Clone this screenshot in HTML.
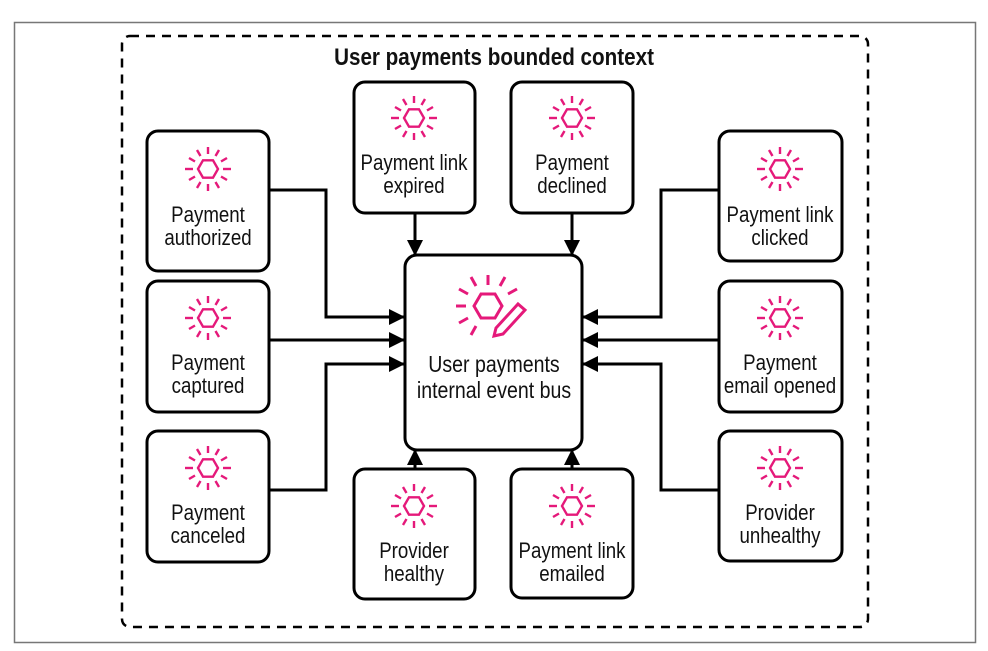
<!DOCTYPE html>
<html><head><meta charset="utf-8"><style>
html,body{margin:0;padding:0;background:#fff;}
svg{display:block;}
text{font-family:"Liberation Sans",sans-serif;font-size:22px;fill:#111;text-anchor:middle;}
</style></head><body>
<svg width="988" height="651" viewBox="0 0 988 651" xmlns="http://www.w3.org/2000/svg">
<defs>
<g id="ic" stroke="#e5197a" stroke-width="2.4" fill="none" stroke-linecap="butt">
<polygon points="-10,0 -5,-8.7 5,-8.7 10,0 5,8.7 -5,8.7"/>
<line x1="15" y1="0" x2="23" y2="0"/>
<line x1="-15" y1="0" x2="-23" y2="0"/>
<line x1="0" y1="-15" x2="0" y2="-22"/>
<line x1="0" y1="15" x2="0" y2="22"/>
<line x1="13" y1="-7.5" x2="19" y2="-11"/>
<line x1="-13" y1="-7.5" x2="-19" y2="-11"/>
<line x1="13" y1="7.5" x2="19" y2="11"/>
<line x1="-13" y1="7.5" x2="-19" y2="11"/>
<line x1="7.5" y1="-13" x2="11" y2="-19"/>
<line x1="-7.5" y1="-13" x2="-11" y2="-19"/>
<line x1="7.5" y1="13" x2="11" y2="19"/>
<line x1="-7.5" y1="13" x2="-11" y2="19"/>
</g>
<marker id="a2" markerWidth="16" markerHeight="16" refX="15" refY="8" orient="auto" markerUnits="userSpaceOnUse" viewBox="0 0 16 16">
<path d="M0,0 L16,8 L0,16 z" fill="#000"/>
</marker>
</defs>
<rect x="14.5" y="22.5" width="961" height="620" fill="none" stroke="#777" stroke-width="1.5"/>
<rect x="122" y="36" width="746" height="591" rx="8" fill="none" stroke="#000" stroke-width="2.5" stroke-dasharray="9,7"/>
<g transform="translate(494,0) scale(0.86,1)"><text x="0" y="65" style="font-weight:bold;font-size:24px">User payments bounded context</text></g>

<g fill="none" stroke="#000" stroke-width="3">
<polyline points="269,190 326,190 326,317 404,317" marker-end="url(#a2)"/>
<polyline points="269,340 404,340" marker-end="url(#a2)"/>
<polyline points="269,490 326,490 326,364 404,364" marker-end="url(#a2)"/>
<polyline points="719,190 661,190 661,317 583,317" marker-end="url(#a2)"/>
<polyline points="719,340 583,340" marker-end="url(#a2)"/>
<polyline points="719,490 661,490 661,364 583,364" marker-end="url(#a2)"/>
<polyline points="415,213 415,255" marker-end="url(#a2)"/>
<polyline points="572,213 572,255" marker-end="url(#a2)"/>
<polyline points="415,469 415,450" marker-end="url(#a2)"/>
<polyline points="572,469 572,450" marker-end="url(#a2)"/>
</g>

<g fill="#fff" stroke="#000" stroke-width="3">
<rect x="147" y="131" width="122" height="140" rx="11"/>
<rect x="147" y="281" width="122" height="131" rx="11"/>
<rect x="147" y="431" width="122" height="131" rx="11"/>
<rect x="354" y="82" width="121" height="131" rx="11"/>
<rect x="511" y="82" width="122" height="131" rx="11"/>
<rect x="719" y="131" width="123" height="130" rx="11"/>
<rect x="719" y="281" width="123" height="131" rx="11"/>
<rect x="719" y="431" width="123" height="130" rx="11"/>
<rect x="354" y="469" width="121" height="130" rx="11"/>
<rect x="511" y="469" width="122" height="129" rx="11"/>
<rect x="405" y="255" width="177" height="195" rx="12"/>
</g>

<use href="#ic" x="208" y="169"/>
<g transform="translate(208,0) scale(0.85,1)"><text x="0" y="222">Payment</text><text x="0" y="245">authorized</text></g>
<use href="#ic" x="208" y="318"/>
<g transform="translate(208,0) scale(0.85,1)"><text x="0" y="370">Payment</text><text x="0" y="393">captured</text></g>
<use href="#ic" x="208" y="468"/>
<g transform="translate(208,0) scale(0.85,1)"><text x="0" y="520">Payment</text><text x="0" y="543">canceled</text></g>
<use href="#ic" x="414" y="118"/>
<g transform="translate(414,0) scale(0.85,1)"><text x="0" y="170">Payment link</text><text x="0" y="193">expired</text></g>
<use href="#ic" x="572" y="118"/>
<g transform="translate(572,0) scale(0.85,1)"><text x="0" y="170">Payment</text><text x="0" y="193">declined</text></g>
<use href="#ic" x="780" y="169"/>
<g transform="translate(780,0) scale(0.85,1)"><text x="0" y="222">Payment link</text><text x="0" y="245">clicked</text></g>
<use href="#ic" x="780" y="318"/>
<g transform="translate(780,0) scale(0.85,1)"><text x="0" y="370">Payment</text><text x="0" y="393">email opened</text></g>
<use href="#ic" x="780" y="468"/>
<g transform="translate(780,0) scale(0.85,1)"><text x="0" y="520">Provider</text><text x="0" y="543">unhealthy</text></g>
<use href="#ic" x="414" y="506"/>
<g transform="translate(414,0) scale(0.85,1)"><text x="0" y="558">Provider</text><text x="0" y="581">healthy</text></g>
<use href="#ic" x="572" y="506"/>
<g transform="translate(572,0) scale(0.85,1)"><text x="0" y="558">Payment link</text><text x="0" y="581">emailed</text></g>

<g transform="translate(488,306)" stroke="#e5197a" stroke-width="3" fill="none">
<polygon points="-14,0 -7,-12 7,-12 14,0 7,12 -7,12"/>
<line x1="-22" y1="0" x2="-32" y2="0"/>
<line x1="-20" y1="-12" x2="-29" y2="-17"/>
<line x1="-20" y1="12" x2="-29" y2="17"/>
<line x1="-12" y1="-20" x2="-17" y2="-29"/>
<line x1="-12" y1="20" x2="-17" y2="29"/>
<line x1="0" y1="-21" x2="0" y2="-31"/>
<line x1="12" y1="-20" x2="17" y2="-29"/>
<line x1="20" y1="-12" x2="29" y2="-17"/>
<path d="M8,22 L30,-2 L37,4 L15,28 L6,30 z"/>
</g>
<g transform="translate(494,0) scale(0.85,1)"><text x="0" y="372" style="font-size:23px">User payments</text>
<text x="0" y="398" style="font-size:23px">internal event bus</text></g>
</svg>
</body></html>
